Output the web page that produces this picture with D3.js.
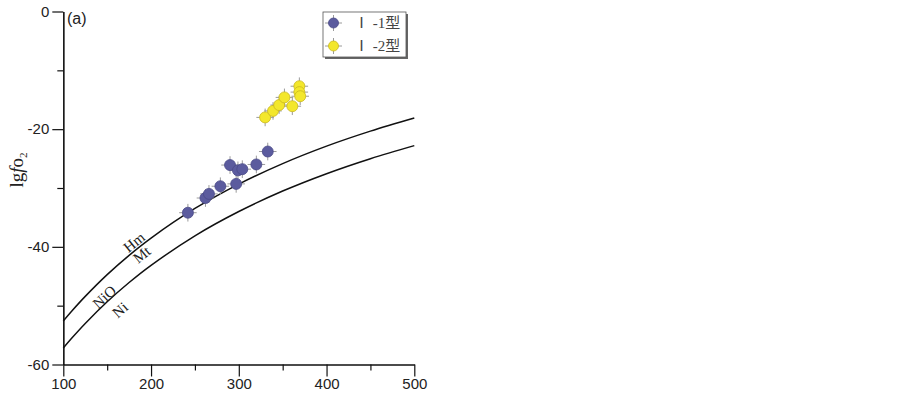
<!DOCTYPE html>
<meta charset="utf-8">
<script src="https://d3js.org/d3.v7.min.js"></script>
<style>
body {margin: 0; background: #fff;}
.axis path, .axis line {stroke: #111; stroke-width: 1.2;}
.axis text {font-family: "Liberation Sans", Arial, sans-serif; font-size: 15px; fill: #222;}
.buffer {fill: none; stroke: #111; stroke-width: 1.5;}
.curve-label {font-family: "Liberation Serif", "DejaVu Serif", serif; font-size: 15px; fill: #222;}
.err {stroke: #9a9a9a; stroke-width: 1;}
.legend-text {font-family: "Liberation Serif", "Noto Sans CJK SC", serif; font-size: 15px; fill: #444;}
</style>
<div id="vis"></div>
<script>

// Data
var tempTicks = [100, 200, 300, 400, 500];
var tempMinor = [150, 250, 350, 450];
var fo2Ticks = [0, -20, -40, -60];
var fo2Minor = [-10, -30, -50];

// buffer curves (T in degC, lg fO2)
var bufferT = [100, 110, 125, 150, 175, 200, 250, 300, 350, 400, 450, 500];
var hmMt = [-52.6, -50.86, -48.42, -44.72, -41.44, -38.51, -33.48, -29.33, -25.85, -22.88, -20.33, -18.1];
var nioNi = [-57.2, -55.46, -53.02, -49.34, -46.07, -43.15, -38.13, -34.0, -30.52, -27.57, -25.02, -22.8];

// type I-1 samples
var i1T = [242, 262, 266, 279, 290, 297, 299, 304, 320, 333];
var i1F = [-34.2, -31.7, -31.0, -29.7, -26.1, -29.3, -27.0, -26.8, -26.0, -23.8];
// type I-2 samples
var i2T = [330, 339, 346, 352, 361, 369, 369, 370];
var i2F = [-18.0, -16.9, -15.9, -14.6, -16.1, -12.7, -13.7, -14.4];

var errT = 10, errF = 1.5;

var seriesNames = ["Ⅰ -1型", "Ⅰ -2型"];
var seriesColors = ["#5b5b9e", "#f3e72c"];
var seriesStroke = ["#4a4a88", "#c9b820"];

var w = 903, h = 401;
var margin = {top: 11.5, left: 63.3, right: 488.7, bottom: 36.5};

var svg = d3.select("#vis").append("svg")
    .attr("width", w)
    .attr("height", h);

var x = d3.scaleLinear().domain([100, 500]).range([margin.left, w - margin.right]);
var y = d3.scaleLinear().domain([0, -60]).range([margin.top, h - margin.bottom]);

// axes
svg.append("g")
    .attr("class", "axis")
    .attr("transform", "translate(" + margin.left + ",0)")
    .call(d3.axisLeft(y).tickValues(fo2Ticks).tickSize(11).tickSizeOuter(0).tickPadding(3)
      .tickFormat(function(d) { return d === 0 ? "0" : String(d); }));

svg.append("g")
    .attr("class", "axis")
    .attr("transform", "translate(" + margin.left + ",0)")
    .call(d3.axisLeft(y).tickValues(fo2Minor).tickSize(6).tickSizeOuter(0).tickFormat(""));

svg.append("g")
    .attr("class", "axis")
    .attr("transform", "translate(0," + y(-60) + ")")
    .call(d3.axisBottom(x).tickValues(tempTicks).tickSize(12).tickSizeOuter(0).tickPadding(2));

svg.append("g")
    .attr("class", "axis")
    .attr("transform", "translate(0," + y(-60) + ")")
    .call(d3.axisBottom(x).tickValues(tempMinor).tickSize(6).tickSizeOuter(0).tickFormat(""));

// y label
var ylab = svg.append("text")
    .attr("transform", "translate(23,170) rotate(-90)")
    .attr("text-anchor", "middle")
    .style("font-family", "'Liberation Serif', serif")
    .style("font-size", "19px")
    .style("fill", "#222");
ylab.append("tspan").text("lg");
ylab.append("tspan").style("font-style", "italic").text("f");
ylab.append("tspan").text("o");
ylab.append("tspan").attr("dy", 4).style("font-size", "11px").text("2");

// panel label
svg.append("text")
    .attr("x", 67).attr("y", 24)
    .style("font-family", "'Liberation Sans', Arial, sans-serif")
    .style("font-size", "16px")
    .style("fill", "#222")
    .text("(a)");

// buffer curves
var line = d3.line()
    .x(function(d) { return x(d[0]); })
    .y(function(d) { return y(d[1]); })
    .curve(d3.curveCatmullRom);

svg.append("path").attr("class", "buffer")
    .attr("d", line(bufferT.map(function(t, i) { return [t, hmMt[i]]; })));
svg.append("path").attr("class", "buffer")
    .attr("d", line(bufferT.map(function(t, i) { return [t, nioNi[i]]; })));

var curveLabels = [
  {t: "Hm", x: 180.6, y: -39.2, a: -39},
  {t: "Mt", x: 189.4, y: -41.3, a: -39},
  {t: "NiO", x: 146.7, y: -48.5, a: -42},
  {t: "Ni", x: 164.6, y: -50.7, a: -41}
];
svg.selectAll(".curve-label")
    .data(curveLabels)
  .enter().append("text")
    .attr("class", "curve-label")
    .attr("text-anchor", "middle")
    .attr("dy", "0.35em")
    .attr("transform", function(d) {
      return "translate(" + x(d.x) + "," + y(d.y) + ") rotate(" + d.a + ")";
    })
    .text(function(d) { return d.t; });

// markers with error crosses
function drawPoints(ts, fs, k) {
  var pts = ts.map(function(t, i) { return [t, fs[i]]; });
  var g = svg.append("g");
  g.selectAll(".eh").data(pts).enter().append("line")
      .attr("class", "err")
      .attr("x1", function(d) { return x(d[0] - errT); })
      .attr("x2", function(d) { return x(d[0] + errT); })
      .attr("y1", function(d) { return y(d[1]); })
      .attr("y2", function(d) { return y(d[1]); });
  g.selectAll(".ev").data(pts).enter().append("line")
      .attr("class", "err")
      .attr("x1", function(d) { return x(d[0]); })
      .attr("x2", function(d) { return x(d[0]); })
      .attr("y1", function(d) { return y(d[1] - errF); })
      .attr("y2", function(d) { return y(d[1] + errF); });
  g.selectAll("circle").data(pts).enter().append("circle")
      .attr("cx", function(d) { return x(d[0]); })
      .attr("cy", function(d) { return y(d[1]); })
      .attr("r", 5.5)
      .attr("fill", seriesColors[k])
      .attr("stroke", seriesStroke[k])
      .attr("stroke-width", 0.8);
}
drawPoints(i1T, i1F, 0);
drawPoints(i2T, i2F, 1);

// legend
var lg = svg.append("g").attr("transform", "translate(323,12)");
lg.append("rect").attr("x", 2).attr("y", 2).attr("width", 83).attr("height", 45).attr("fill", "#666");
lg.append("rect").attr("width", 83).attr("height", 45).attr("fill", "#fff").attr("stroke", "#555").attr("stroke-width", 0.8);
seriesNames.forEach(function(name, k) {
  var cy = 11 + k * 23;
  lg.append("line").attr("class", "err").attr("x1", 2).attr("x2", 19).attr("y1", cy).attr("y2", cy);
  lg.append("line").attr("class", "err").attr("x1", 10.5).attr("x2", 10.5).attr("y1", cy - 8).attr("y2", cy + 8);
  lg.append("circle").attr("cx", 10.5).attr("cy", cy).attr("r", 5)
    .attr("fill", seriesColors[k]).attr("stroke", seriesStroke[k]).attr("stroke-width", 0.8);
  lg.append("text").attr("class", "legend-text").attr("x", 31).attr("y", cy + 5).text(name);
});

</script>
